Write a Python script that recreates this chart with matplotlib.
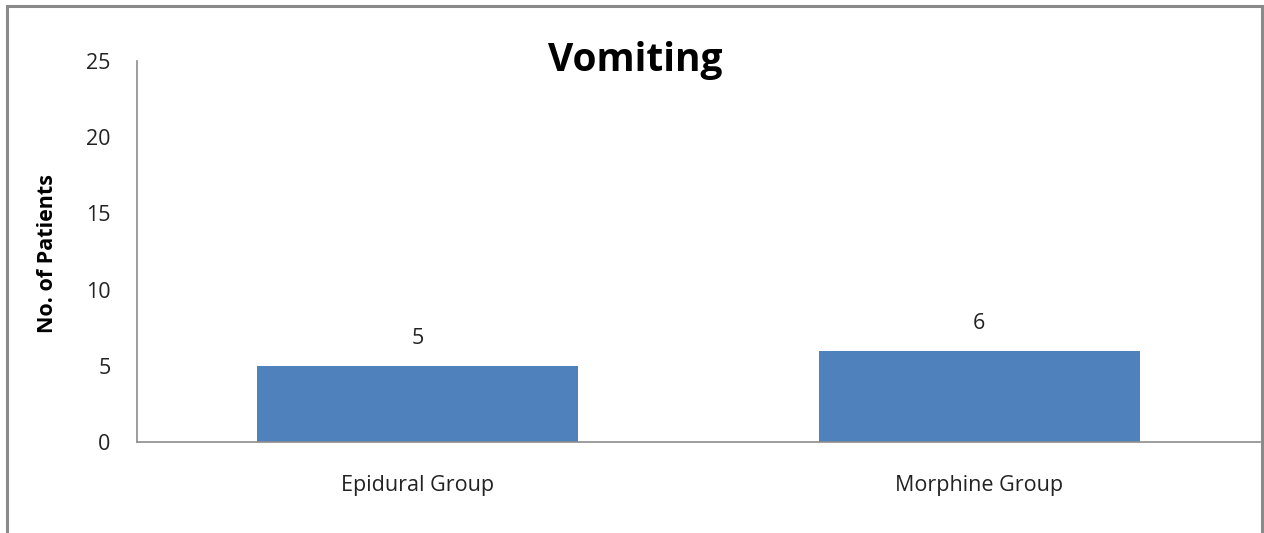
import matplotlib
matplotlib.use("Agg")
import matplotlib.pyplot as plt
from matplotlib.patches import Rectangle

categories = ["Epidural Group", "Morphine Group"]
patients = [5, 6]
y_ticks = [0, 5, 10, 15, 20, 25]

plt.rcParams["font.family"] = ["Open Sans", "DejaVu Sans"]

W, H = 1264, 533
fig = plt.figure(figsize=(W / 100, H / 100), dpi=100)
fig.patch.set_facecolor("white")

# outer chart frame (bottom edge runs off the canvas)
fig.patches.append(Rectangle((7 / W, -0.05), (1262 - 7) / W, 1.05 - 6 / H,
                             transform=fig.transFigure, fill=False,
                             edgecolor="#8a8a8a", linewidth=2.2, zorder=0))

ax = fig.add_axes([137 / W, 1 - 442 / H, (1260 - 137) / W, (442 - 61) / H])
x = range(len(categories))
bars = ax.bar(x, patients, width=0.572, color="#4F81BD", zorder=2)

ax.set_xlim(-0.5, 1.5)
ax.set_ylim(0, 25)
ax.set_yticks(y_ticks)
ax.set_yticklabels([str(v) for v in y_ticks], fontsize=15.5, color="#222222")
ax.set_xticks(list(x))
ax.set_xticklabels(categories, fontsize=15.5, color="#222222")
ax.tick_params(axis="both", length=0)
ax.tick_params(axis="y", pad=19)
ax.tick_params(axis="x", pad=24)

for side in ("top", "right"):
    ax.spines[side].set_visible(False)
for side in ("left", "bottom"):
    ax.spines[side].set_color("#8c8c8c")
    ax.spines[side].set_linewidth(1.2)

for rect, v in zip(bars, patients):
    ax.annotate(str(v), (rect.get_x() + rect.get_width() / 2, v),
                xytext=(0, 19.5), textcoords="offset points",
                ha="center", va="center", fontsize=15.5, color="#222222")

fig.text(48 / W, 1 - 253 / H, "No. of Patients", rotation=90,
         ha="center", va="center", fontsize=15.5, fontweight="bold")
fig.text(635 / W, 1 - 60 / H, "Vomiting", ha="center", va="center",
         fontsize=28, fontweight="bold", color="black")

fig.savefig("out.png", dpi=100, facecolor="white")
